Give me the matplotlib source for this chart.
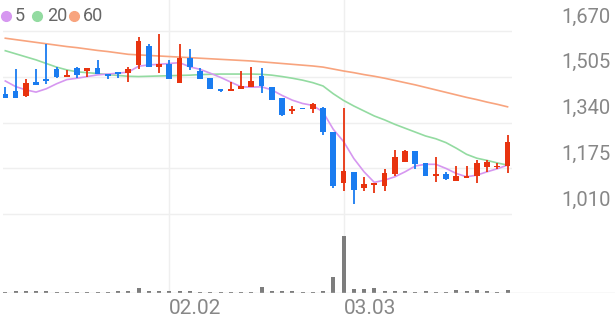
import matplotlib
matplotlib.use('Agg')
import matplotlib.pyplot as plt
from matplotlib.lines import Line2D
import numpy as np

plt.rcParams['font.family'] = ['Roboto', 'DejaVu Sans']

# daily candles (index 0..49), 02.02 at index 16, 03.03 at index 33
opens = [1442, 1455, 1436, 1485, 1498, 1533, 1505, 1538, 1527, 1538,
         1515, 1521, 1520, 1547, 1617, 1541, 1551, 1482, 1574, 1527,
         1500, 1461, 1454, 1460, 1467, 1509, 1469, 1427, 1381, 1394,
         1388, 1394, 1307, 1124, 1163, 1103, 1115, 1112, 1155, 1199,
         1239, 1193, 1148, 1155, 1131, 1141, 1148, 1181, 1179, 1184]
highs = [1467, 1533, 1496, 1533, 1623, 1539, 1530, 1541, 1538, 1566,
         1515, 1523, 1539, 1647, 1623, 1659, 1566, 1623, 1605, 1538,
         1500, 1461, 1485, 1527, 1539, 1536, 1469, 1427, 1400, 1394,
         1410, 1398, 1307, 1394, 1163, 1145, 1121, 1173, 1241, 1241,
         1239, 1193, 1217, 1163, 1185, 1185, 1205, 1205, 1196, 1295]
lows = [1430, 1430, 1433, 1475, 1479, 1500, 1505, 1500, 1503, 1514,
        1496, 1500, 1487, 1532, 1541, 1520, 1497, 1482, 1530, 1497,
        1461, 1449, 1454, 1460, 1467, 1448, 1421, 1365, 1370, 1388,
        1376, 1295, 1103, 1095, 1047, 1095, 1088, 1095, 1148, 1199,
        1173, 1148, 1125, 1133, 1131, 1141, 1121, 1163, 1173, 1160]
closes = [1430, 1430, 1484, 1475, 1491, 1505, 1511, 1511, 1538, 1514,
          1509, 1515, 1532, 1635, 1541, 1551, 1497, 1574, 1541, 1497,
          1461, 1454, 1461, 1471, 1490, 1472, 1421, 1367, 1388, 1388,
          1407, 1305, 1113, 1166, 1097, 1119, 1121, 1159, 1215, 1239,
          1190, 1148, 1155, 1137, 1149, 1147, 1196, 1199, 1185, 1269]
volumes = [1, 2, 2, 2, 2, 1, 1, 1, 1, 1.5,
           1, 2, 2.5, 5, 2, 2.5, 2, 2.5, 2, 1,
           1, 1, 1, 1.5, 1.5, 6, 2, 2, 2, 1,
           1, 2.5, 16.7, 57.7, 4, 4.3, 5.7, 2.3, 2.3, 2.3,
           1, 2.7, 1.5, 1.5, 3, 2.3, 3, 2, 1.5, 3.3]
ma5 = [1490, 1470, 1458, 1450, 1462, 1480, 1495, 1500, 1506, 1512,
       1515, 1518, 1522, 1543, 1548, 1550, 1553, 1556, 1541, 1532,
       1518, 1503, 1486, 1469, 1468, 1469, 1458, 1438, 1421, 1409,
       1402, 1378, 1316, 1272, 1211, 1163, 1125, 1133, 1145, 1163,
       1184, 1190, 1190, 1175, 1157, 1145, 1151, 1163, 1174, 1187]
ma20 = [1599, 1588, 1577, 1566, 1553, 1540, 1530, 1523, 1520, 1517,
        1513, 1510, 1507, 1506, 1507, 1508, 1509, 1510, 1511, 1513,
        1514, 1515, 1515, 1515, 1515, 1514, 1511, 1506, 1500, 1493,
        1484, 1472, 1444, 1420, 1400, 1382, 1364, 1350, 1334, 1320,
        1306, 1292, 1282, 1268, 1248, 1226, 1212, 1204, 1195, 1187]
ma60 = [1644, 1639, 1634, 1629, 1624, 1619, 1614, 1610, 1605, 1600,
        1596, 1591, 1586, 1584, 1582, 1580, 1578, 1576, 1574, 1572,
        1570, 1568, 1566, 1564, 1562, 1559, 1556, 1553, 1550, 1547,
        1544, 1540, 1533, 1526, 1520, 1513, 1507, 1500, 1492, 1484,
        1476, 1467, 1458, 1449, 1440, 1431, 1423, 1414, 1406, 1397]
price_ticks = [1010, 1175, 1340, 1505, 1670]
date_labels = {16: '02.02', 33: '03.03'}

UP = '#e8330f'
DOWN = '#1a7cf0'
GRID = '#efefef'
TXT = '#878787'

W, H = 616, 321
fig = plt.figure(figsize=(W / 100, H / 100), dpi=100)

# price panel: pixel x = 5.3 + 10.25*i
step, x0 = 10.25, 5.3
ax = fig.add_axes([3 / W, 1 - 216 / H, (512 - 3) / W, 216 / H])
ax.set_xlim((3 - x0) / step, (512 - x0) / step)
ppx = 660 / 183.3
ax.set_ylim(1670 - (216 - 31) * ppx, 1670 + 31 * ppx)
ax.axis('off')

axv = fig.add_axes([3 / W, 1 - 293.3 / H, (615 - 3) / W, (293.3 - 216) / H])
axv.set_xlim((3 - x0) / step, (615 - x0) / step)
axv.set_ylim(0, 293.3 - 216)
axv.axis('off')

for p in price_ticks:
    ax.axhline(p, color=GRID, lw=1, zorder=0)
    ax.annotate(f'{p:,}', xy=(611 / W, p), xycoords=('figure fraction', 'data'),
                xytext=(0, 14), textcoords='offset pixels', ha='right', va='center',
                fontsize=14.5, color=TXT, annotation_clip=False)

for i, lbl in date_labels.items():
    ax.axvline(i, color=GRID, lw=1, zorder=0)
    axv.axvline(i, color=GRID, lw=1, zorder=0)
    axv.annotate(lbl, xy=(i, 0), xytext=(0, -15), textcoords='offset pixels',
                 ha='left', va='center', fontsize=15, color=TXT,
                 annotation_clip=False)

x = np.arange(len(closes))
ax.plot(x, ma60, color='#f8a47e', lw=1.2, zorder=2)
ax.plot(x, ma20, color='#93dba1', lw=1.2, zorder=2)
ax.plot(x, ma5, color='#d697f0', lw=1.2, zorder=2)

o = np.array(opens, float)
c = np.array(closes, float)
colors = [UP if cc >= oo else DOWN for oo, cc in zip(o, c)]
ax.vlines(x, lows, highs, colors=colors, lw=1.3, zorder=3)
bottom = np.minimum(o, c)
height = np.maximum(np.abs(c - o), 5.5)
ax.bar(x, height, bottom=bottom, width=0.55, color=colors, zorder=4)

axv.bar(x, volumes, width=0.4, color='#7d7d7d')
axv.axhline(0, color='#dddddd', lw=1)

# legend
legend_items = [('5', '#d697f0', 6, 15), ('20', '#93dba1', 37, 47), ('60', '#f8a47e', 74, 83)]
for lbl, col, cx, tx in legend_items:
    fig.add_artist(Line2D([cx / W], [1 - 16 / H], marker='o', markersize=7,
                          color=col, transform=fig.transFigure))
    fig.text(tx / W, 1 - 16 / H, lbl, ha='left', va='center', fontsize=13,
             color='#666666')

fig.savefig('out.png', dpi=100)
